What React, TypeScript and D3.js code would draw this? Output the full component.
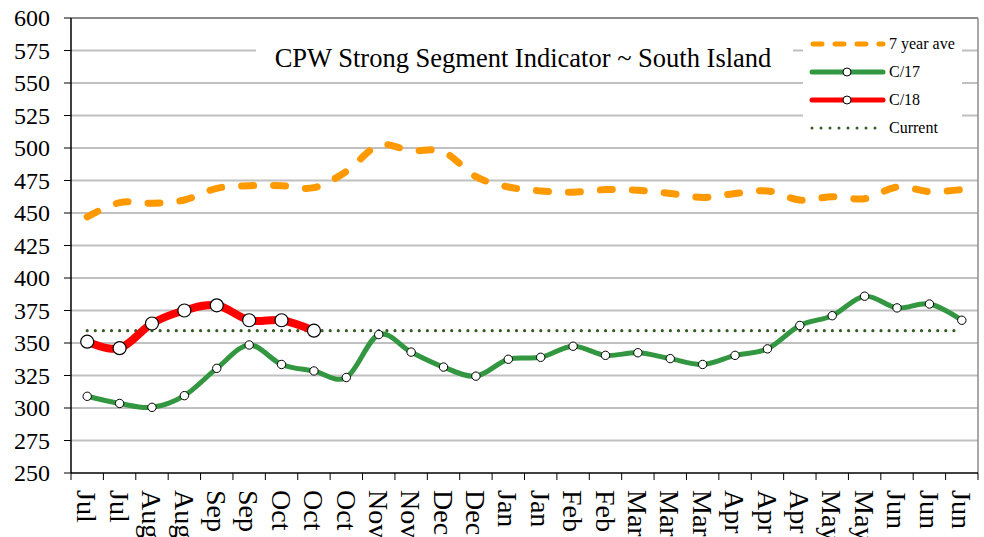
import { useMemo } from 'react'
import * as d3 from 'd3'

const WIDTH = 984
const HEIGHT = 537
const PLOT = { left: 71, right: 978, top: 18, bottom: 473 }
const FONT = 'Liberation Serif'

const months = [
  'Jul', 'Jul', 'Aug', 'Aug', 'Sep', 'Sep', 'Oct', 'Oct', 'Oct', 'Nov', 'Nov', 'Dec', 'Dec', 'Jan',
  'Jan', 'Feb', 'Feb', 'Mar', 'Mar', 'Mar', 'Apr', 'Apr', 'Apr', 'May', 'May', 'Jun', 'Jun', 'Jun',
]

const sevenYearAve = [
  447, 458, 457.5, 460, 469, 471, 471, 469.5, 482, 502, 498, 497, 478, 470,
  467, 466, 468, 467.5, 465, 462, 465, 467, 460, 462.5, 461, 470, 466.5, 468,
]

const c17 = [
  309, 303.5, 300.5, 309.5, 330.5, 348.5, 333.5, 328.5, 323.5, 356.5, 343, 331.5, 324.5, 337.5,
  339, 347.5, 340.5, 342.5, 338, 333.5, 340.5, 345.5, 363.5, 371, 386, 377, 380, 367.5,
]

const c18 = [351, 346, 365, 375, 379, 367.5, 367.5, 359.5]

const currentLevel = 359.5

const yTicks = [250, 275, 300, 325, 350, 375, 400, 425, 450, 475, 500, 525, 550, 575, 600]

const COLORS = {
  ave: '#ff9900',
  c17: '#339640',
  c18: '#ff0000',
  current: '#3a5a28',
  grid: '#c0c0c0',
}

export default function App() {
  const idx = months.map((_, i) => i)

  const x = useMemo(
    () => d3.scaleBand<number>().domain(idx).range([PLOT.left, PLOT.right]),
    []
  )
  const y = useMemo(
    () => d3.scaleLinear().domain([250, 600]).range([PLOT.bottom, PLOT.top]),
    []
  )
  const cx = (i: number) => (x(i) ?? 0) + x.bandwidth() / 2

  const line = d3
    .line<number>()
    .x((_, i) => cx(i))
    .y((d) => y(d))
    .curve(d3.curveCatmullRom.alpha(0))

  const currentLine = d3.line<number>()([
    [cx(0), y(currentLevel)],
    [cx(months.length - 1), y(currentLevel)],
  ] as any)

  const legendItems = [
    { label: '7 year ave', color: COLORS.ave, kind: 'dash' },
    { label: 'C/17', color: COLORS.c17, kind: 'marker' },
    { label: 'C/18', color: COLORS.c18, kind: 'marker' },
    { label: 'Current', color: COLORS.current, kind: 'dot' },
  ]

  return (
    <svg
      width={WIDTH}
      height={HEIGHT}
      style={{ position: 'absolute', left: 0, top: 0, background: '#fff' }}
    >
      {/* gridlines */}
      {yTicks.slice(1).map((t) => (
        <line
          key={t}
          x1={PLOT.left}
          x2={PLOT.right}
          y1={y(t)}
          y2={y(t)}
          stroke={t === 600 ? '#8c8c8c' : COLORS.grid}
          strokeWidth={2}
        />
      ))}
      <line x1={PLOT.right} x2={PLOT.right} y1={PLOT.top} y2={PLOT.bottom} stroke="#8c8c8c" strokeWidth={1.5} />

      {/* title box */}
      <rect x={256} y={37} width={537} height={42} fill="#fff" />
      <text x={523} y={67} textAnchor="middle" fontSize={26.5} fontFamily={FONT} fill="#000">
        CPW Strong Segment Indicator ~ South Island
      </text>

      {/* legend box */}
      <rect x={803} y={22} width={159} height={120} fill="#fff" />
      {legendItems.map((item, i) => {
        const ly = 44 + i * 28
        return (
          <g key={item.label}>
            {item.kind === 'dash' && (
              <line x1={813} x2={883} y1={ly} y2={ly} stroke={item.color} strokeWidth={5}
                strokeDasharray="9 13" strokeLinecap="round" />
            )}
            {item.kind === 'marker' && (
              <>
                <line x1={812} x2={883} y1={ly} y2={ly} stroke={item.color} strokeWidth={5} strokeLinecap="round" />
                <circle cx={847} cy={ly} r={4} fill="#fff" stroke="#000" strokeWidth={1} />
              </>
            )}
            {item.kind === 'dot' && (
              <line x1={812} x2={884} y1={ly} y2={ly} stroke={item.color} strokeWidth={3}
                strokeDasharray="0 9" strokeLinecap="round" />
            )}
            <text x={889} y={ly + 5} fontSize={16} fontFamily={FONT} fill="#000">{item.label}</text>
          </g>
        )
      })}

      {/* series */}
      <path d={currentLine ?? ''} fill="none" stroke={COLORS.current} strokeWidth={3.2}
        strokeDasharray="0 8.1" strokeLinecap="round" />
      <path d={line(sevenYearAve) ?? ''} fill="none" stroke={COLORS.ave} strokeWidth={7}
        strokeDasharray="12 20" strokeLinecap="round" />
      <path d={line(c17) ?? ''} fill="none" stroke={COLORS.c17} strokeWidth={5} strokeLinejoin="round" />
      {c17.map((v, i) => (
        <circle key={'g' + i} cx={cx(i)} cy={y(v)} r={4.2} fill="#fff" stroke="#000" strokeWidth={1} />
      ))}
      <path d={line(c18) ?? ''} fill="none" stroke={COLORS.c18} strokeWidth={8} strokeLinejoin="round" />
      {c18.map((v, i) => (
        <circle key={'r' + i} cx={cx(i)} cy={y(v)} r={6.5} fill="#fff" stroke="#000" strokeWidth={1.2} />
      ))}

      {/* y axis */}
      <line x1={PLOT.left} x2={PLOT.left} y1={PLOT.top} y2={PLOT.bottom} stroke="#000" strokeWidth={1.5} />
      {yTicks.map((t) => (
        <g key={t}>
          <line x1={PLOT.left - 7} x2={PLOT.left} y1={y(t)} y2={y(t)} stroke="#000" strokeWidth={1} />
          <text x={50} y={y(t)} dy="0.35em" textAnchor="end" fontSize={24} fontFamily={FONT} fill="#000">
            {t}
          </text>
        </g>
      ))}

      {/* x axis */}
      <line x1={PLOT.left} x2={PLOT.right} y1={PLOT.bottom} y2={PLOT.bottom} stroke="#000" strokeWidth={1.5} />
      {idx.map((i) => (
        <line key={'t' + i} x1={x(i) ?? 0} x2={x(i) ?? 0} y1={PLOT.bottom} y2={PLOT.bottom + 7}
          stroke="#000" strokeWidth={1} />
      ))}
      <line x1={PLOT.right} x2={PLOT.right} y1={PLOT.bottom} y2={PLOT.bottom + 7} stroke="#000" strokeWidth={1} />
      {months.map((m, i) => (
        <text
          key={'m' + i}
          transform={`translate(${cx(i)},${PLOT.bottom + 17}) rotate(90)`}
          dy="0.35em"
          fontSize={28}
          fontFamily={FONT}
          fill="#000"
        >
          {m}
        </text>
      ))}
    </svg>
  )
}
